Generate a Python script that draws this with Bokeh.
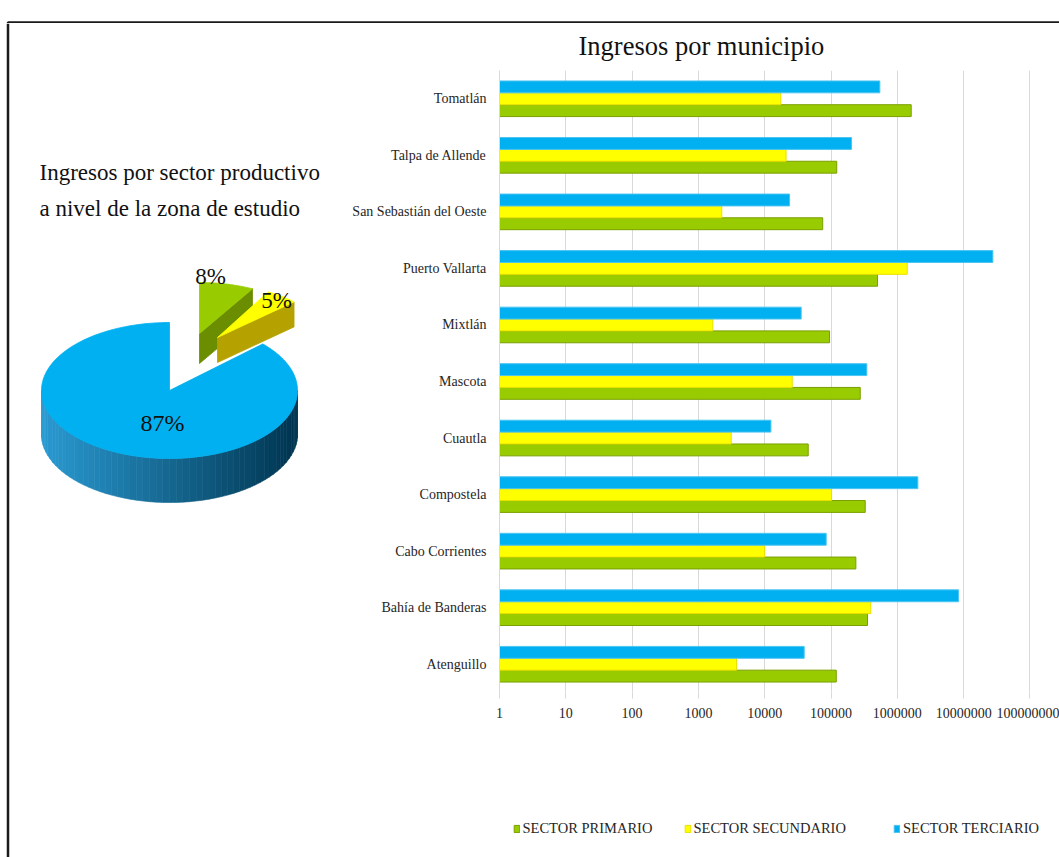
import math
from bokeh.plotting import figure
from bokeh.models import (ColumnDataSource, Range1d, FactorRange, FixedTicker,
                          NumeralTickFormatter, Legend, LegendItem)
from bokeh.transform import dodge
from bokeh.layouts import column, row
from bokeh.core.properties import value
from bokeh.embed import file_html
from bokeh.resources import INLINE

# ---------------- data ----------------
municipios = ["Atenguillo", "Bahía de Banderas", "Cabo Corrientes", "Compostela",
              "Cuautla", "Mascota", "Mixtlán", "Puerto Vallarta",
              "San Sebastián del Oeste", "Talpa de Allende", "Tomatlán"]
sector_primario = [120000, 355000, 237000, 328000, 45300, 276000, 95000,
                   503000, 75000, 122000, 1620000]
sector_secundario = [3760, 398000, 9930, 102000, 3120, 26000, 1650,
                     1410000, 2250, 21000, 17500]
sector_terciario = [39400, 8380000, 84600, 2040000, 12400, 347000, 35500,
                    27600000, 23700, 204000, 545000]
x_ticks = [1, 10, 100, 1000, 10000, 100000, 1000000, 10000000, 100000000]
sectores = ["SECTOR PRIMARIO", "SECTOR SECUNDARIO", "SECTOR TERCIARIO"]
participacion = [8, 5, 87]

bar_title = "Ingresos por municipio"
pie_title = ["Ingresos  por sector productivo", "a nivel de la zona de estudio"]

# ---------------- styles ----------------
FONT = "Liberation Serif"
TXT = "#262626"
fill_cols = ["#99cc00", "#ffff00", "#00b0f0"]
line_cols = ["#7a9f00", "#e8e000", "#4cc4f2"]
side_cols = ["#6b8e00", "#b5a200", None]
# 3D pie geometry per slice (exploded centres, radii, depth) in page pixels
slice_geom = [dict(cx=199, cy=333, rx=110, ry=51, d=30),
              dict(cx=217, cy=337, rx=105, ry=52, d=25),
              dict(cx=169, cy=390, rx=128, ry=68, d=44)]
label_off = [(11, -57), (59, -37), (-7, 32)]
label_size = ["23px", "23px", "24px"]


def bare(fig):
    fig.outline_line_color = None
    fig.frame_align = False
    return fig


# ---------------- top border strip ----------------
top = bare(figure(width=1059, height=23, x_range=Range1d(0, 1059), y_range=Range1d(23, 0),
                  x_axis_type=None, y_axis_type=None, output_backend="svg",
                  toolbar_location=None, min_border=0))
top.line(x=[7.5, 7.5, 1059], y=[23, 22, 22], line_width=2.5, line_color="#1a1a1a")

# ---------------- pie figure ----------------
pie = bare(figure(width=345, height=834, x_range=Range1d(0, 345), y_range=Range1d(857, 23),
                  x_axis_type=None, y_axis_type=None, output_backend="svg",
                  toolbar_location=None, min_border=0))
pie.line(x=[7.5, 7.5], y=[23, 857], line_width=2.5, line_color="#1a1a1a")

pie.text(x=[39, 39], y=[172, 208], text=pie_title, text_font=value(FONT),
         text_font_size="23px", text_baseline="middle", text_align="left",
         text_color="#111111")


def ell(g, deg, dy=0.0):
    t = math.radians(deg)
    return g["cx"] + g["rx"] * math.sin(t), g["cy"] - g["ry"] * math.cos(t) + dy


def hexlerp(c1, c2, f):
    a = [int(c1[i:i + 2], 16) for i in (1, 3, 5)]
    b = [int(c2[i:i + 2], 16) for i in (1, 3, 5)]
    return "#%02x%02x%02x" % tuple(int(round(a[k] + (b[k] - a[k]) * f)) for k in range(3))


total = float(sum(participacion))
cum = 0.0
for i, v in enumerate(participacion):
    g = slice_geom[i]
    a0 = cum / total * 360.0
    a1 = (cum + v) / total * 360.0
    cum += v
    # outer wall (front half only)
    w0, w1 = max(a0, 90.0), min(a1, 270.0)
    if w1 > w0:
        n = 60
        xs_l, ys_l, cols = [], [], []
        for k in range(n):
            t0 = w0 + (w1 - w0) * k / n
            t1 = w0 + (w1 - w0) * (k + 1) / n
            p0 = ell(g, t0); p1 = ell(g, t1)
            q1 = ell(g, t1, g["d"]); q0 = ell(g, t0, g["d"])
            xs_l.append([p0[0], p1[0], q1[0], q0[0]])
            ys_l.append([p0[1], p1[1], q1[1], q0[1]])
            xm = (p0[0] + p1[0]) / 2
            f = (xm - (g["cx"] - g["rx"])) / (2 * g["rx"])
            cols.append(hexlerp("#2a9ad2", "#00344f", f))
        pie.patches(xs=xs_l, ys=ys_l, fill_color=cols, line_color=cols, line_width=0.6)
    # visible radial faces
    for ang, sign in ((a1, 1), (a0, -1)):
        if sign * math.sin(math.radians(ang)) > 0.01 and side_cols[i]:
            po = ell(g, ang)
            pie.patch(x=[g["cx"], po[0], po[0], g["cx"]],
                      y=[g["cy"], po[1], po[1] + g["d"], g["cy"] + g["d"]],
                      fill_color=side_cols[i], line_color=side_cols[i], line_width=0.8)
    # top face
    steps = max(4, int((a1 - a0) / 2))
    px, py = [g["cx"]], [g["cy"]]
    for k in range(steps + 1):
        xx, yy = ell(g, a0 + (a1 - a0) * k / steps)
        px.append(xx); py.append(yy)
    pie.patch(x=px, y=py, fill_color=fill_cols[i], line_color=fill_cols[i], line_width=0.8)

for i, v in enumerate(participacion):
    g = slice_geom[i]
    pie.text(x=[g["cx"] + label_off[i][0]], y=[g["cy"] + label_off[i][1]],
             text=["%d%%" % v], text_font=value(FONT), text_font_size=label_size[i],
             text_align="center", text_baseline="middle", text_color="#111111")

# ---------------- bar figure ----------------
src = ColumnDataSource(dict(municipio=municipios, primario=sector_primario,
                            secundario=sector_secundario, terciario=sector_terciario))

p = bare(figure(width=714, height=734, x_axis_type="log", x_range=Range1d(1, 10 ** 8.446),
                y_range=FactorRange(factors=municipios), output_backend="svg",
                toolbar_location=None, min_border_left=154, min_border_right=0,
                min_border_top=47, min_border_bottom=65, title=bar_title))
p.title.text_font = FONT
p.title.text_font_size = "26.5px"
p.title.text_font_style = "normal"
p.title.text_color = "#111111"
p.title.align = "left"
p.title.offset = 79
p.title.standoff = 15
p.title.vertical_align = "top"

bh = 0.21
cols_keys = ["primario", "secundario", "terciario"]
offs = [-bh, 0.0, bh]
for i, key in enumerate(cols_keys):
    p.hbar(y=dodge("municipio", offs[i], range=p.y_range), left=1, right=key,
           height=bh, fill_color=fill_cols[i], line_color=line_cols[i],
           line_width=1, source=src)

p.xaxis.ticker = FixedTicker(ticks=x_ticks)
p.xaxis.formatter = NumeralTickFormatter(format="0")
p.xaxis.axis_line_color = None
p.xaxis.major_tick_line_color = "#d9d9d9"
p.xaxis.major_tick_out = 6
p.xaxis.major_tick_in = 0
p.xaxis.minor_tick_line_color = None
p.xaxis.major_label_standoff = 9
p.xaxis.major_label_text_font = FONT
p.xaxis.major_label_text_font_size = "14px"
p.xaxis.major_label_text_color = TXT

p.yaxis.axis_line_color = "#d9d9d9"
p.yaxis.major_tick_line_color = None
p.yaxis.minor_tick_line_color = None
p.yaxis.major_label_standoff = 7
p.yaxis.major_label_text_font = FONT
p.yaxis.major_label_text_font_size = "14px"
p.yaxis.major_label_text_color = TXT

p.xgrid.grid_line_color = "#d9d9d9"
p.ygrid.grid_line_color = None

# ---------------- legend strip (below the bar chart) ----------------
leg = bare(figure(width=714, height=100, x_range=Range1d(0, 1), y_range=Range1d(0, 1),
                  x_axis_type=None, y_axis_type=None, output_backend="svg",
                  toolbar_location=None, min_border=0))
leg_x = [167.5, 338.5, 548]
for i in range(3):
    # placeholder glyph kept outside the visible range: it only feeds the legend swatch
    r = leg.hbar(y=[10], left=[10], right=[11], height=0.1, fill_color=fill_cols[i],
                 line_color=line_cols[i], line_width=1)
    lg = Legend(items=[LegendItem(label=sectores[i], renderers=[r])],
                location=(leg_x[i], 20), orientation="horizontal",
                padding=0, margin=0, border_line_color=None, background_fill_alpha=0,
                glyph_width=7, glyph_height=9, label_standoff=3, label_height=14,
                label_text_font=FONT, label_text_font_size="14.5px",
                label_text_color=TXT)
    leg.add_layout(lg, "center")

layout = column(top, row(pie, column(p, leg)))
open("out.html", "w").write(file_html(layout, INLINE))
